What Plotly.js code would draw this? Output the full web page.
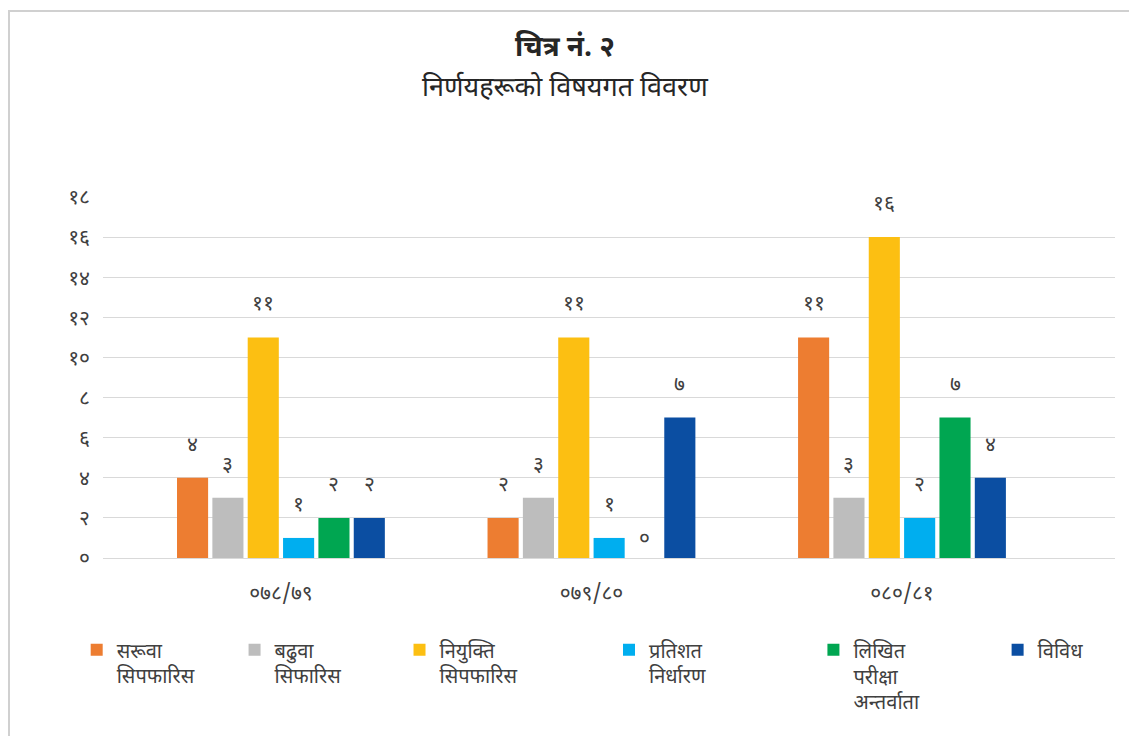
<!DOCTYPE html>
<html>
<head>
<meta charset="utf-8">
<script src="https://cdn.plot.ly/plotly-3.0.1.min.js"></script>
<style>
html,body{margin:0;padding:0;background:#fff;}
#chart{position:absolute;left:0;top:0;width:1129px;height:736px;}
#frame{position:absolute;left:8px;top:10px;width:1119px;height:740px;border:2px solid #d0d0d0;pointer-events:none;}
</style>
</head>
<body>
<div id="chart"></div>
<div id="frame"></div>
<script>
// ---- data ----
const categories = ["०७८/७९", "०७९/८०", "०८०/८१"];
const seriesNames = [
  "सरूवा<br>सिपफारिस",
  "बढुवा<br>सिफारिस",
  "नियुक्ति<br>सिपफारिस",
  "प्रतिशत<br>निर्धारण",
  "लिखित<br>परीक्षा<br>अन्तर्वाता",
  "विविध"
];
const saruwa = [4, 2, 11];
const baduwa = [3, 3, 3];
const niyukti = [11, 11, 16];
const pratishat = [1, 1, 2];
const likhit = [2, 0, 7];
const bibidh = [2, 7, 4];
const seriesValues = [saruwa, baduwa, niyukti, pratishat, likhit, bibidh];
const yTickVals = [0, 2, 4, 6, 8, 10, 12, 14, 16, 18];
const yTickText = ["०", "२", "४", "६", "८", "१०", "१२", "१४", "१६", "१८"];
const devDigits = ["०","१","२","३","४","५","६","७","८","९"];

// ---- style ----
const colors = ["#ED7D31", "#BDBDBD", "#FCBF12", "#00AEEF", "#00A651", "#0B4EA2"];
const legendX = [-0.026, 0.130, 0.293, 0.500, 0.702, 0.884];
const FONT = "'Noto Sans Devanagari', 'Noto Sans', 'Lato', sans-serif";
const toDev = n => String(n).split("").map(c => /[0-9]/.test(c) ? devDigits[+c] : c).join("");

const bargap = 0.317;
const groupgap = 0.12;
const nS = seriesValues.length;
const slot = (1 - bargap) / nS;

const legendKey = i => i === 0 ? "legend" : "legend" + (i + 1);

const traces = seriesValues.map((vals, i) => ({
  type: "bar",
  name: seriesNames[i],
  x: categories,
  y: vals,
  legend: legendKey(i),
  marker: {color: colors[i]},
  hoverinfo: "x+y"
}));

const annotations = [];
seriesValues.forEach((vals, i) => {
  vals.forEach((v, c) => {
    annotations.push({
      x: c + (i - (nS - 1) / 2) * slot,
      y: v,
      xref: "x", yref: "y",
      text: toDev(v),
      showarrow: false,
      yanchor: "bottom",
      yshift: v === 0 ? 2 : 16,
      font: {family: FONT, size: 21, color: "#404040"}
    });
  });
});

annotations.push({
  xref: "paper", yref: "paper", x: 0.457, y: 1, yanchor: "bottom", yshift: 128,
  text: "<b>चित्र नं. २</b>", showarrow: false,
  font: {family: FONT, size: 28, color: "#262626"}
});
annotations.push({
  xref: "paper", yref: "paper", x: 0.457, y: 1, yanchor: "bottom", yshift: 88,
  text: "निर्णयहरूको विषयगत विवरण", showarrow: false,
  font: {family: FONT, size: 27, color: "#262626"}
});

const layout = {
  width: 1129, height: 736,
  margin: {l: 103, r: 14, t: 197, b: 178},
  paper_bgcolor: "#ffffff",
  plot_bgcolor: "#ffffff",
  barmode: "group",
  bargap: bargap,
  bargroupgap: groupgap,
  showlegend: true,
  font: {family: FONT, color: "#404040"},
  xaxis: {
    type: "category",
    range: [-0.573, 2.686],
    showgrid: false,
    showline: false,
    zeroline: false,
    ticks: "",
    ticklabelstandoff: 20,
    tickfont: {family: FONT, size: 21, color: "#404040"}
  },
  yaxis: {
    range: [0, 18],
    tickvals: yTickVals,
    ticktext: yTickText,
    showgrid: true,
    gridcolor: "#D9D9D9",
    gridwidth: 1,
    zeroline: true,
    zerolinecolor: "#D9D9D9",
    zerolinewidth: 1,
    showline: false,
    ticks: "",
    ticklabelstandoff: 12,
    tickfont: {family: FONT, size: 21, color: "#404040"}
  },
  annotations: annotations
};

legendX.forEach((lx, i) => {
  layout[legendKey(i)] = {
    orientation: "v",
    x: lx, xanchor: "left",
    y: -0.2, yanchor: "top",
    valign: "top",
    itemwidth: 30,
    bgcolor: "rgba(0,0,0,0)",
    font: {family: FONT, size: 20, color: "#404040"}
  };
});

Plotly.newPlot("chart", traces, layout, {displayModeBar: false, staticPlot: true});
</script>
</body>
</html>
